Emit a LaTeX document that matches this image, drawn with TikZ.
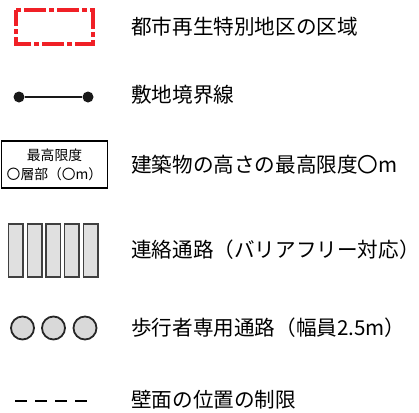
\documentclass[tikz,border=0pt]{standalone}
\usepackage{fontspec}
\setmainfont{Noto Sans CJK JP}
\definecolor{regred}{RGB}{240,32,38}
\begin{document}
\begin{tikzpicture}[x=1pt,y=-1pt,
  lbl/.style={anchor=west,inner sep=0pt,font=\fontsize{20.6}{23}\selectfont},
  bar/.style={draw=black!75,fill=black!12,line width=1.8pt},
  ped/.style={draw=black!85,fill=black!15,line width=1.8pt,circle,minimum size=23pt,inner sep=0pt},
  dot/.style={circle,fill=black!90,minimum size=11pt,inner sep=0pt}]
\useasboundingbox (0,0) rectangle (419,412);
% 1 red dash-dot region
\draw[regred,line width=4pt,dash pattern=on 22pt off 3pt on 5pt off 3pt,dash phase=-8pt]
  (16,10) -- (93,10) -- (93,44) -- (16,44) -- cycle;
\node[lbl] (t1) at (131,27) {都市再生特別地区の区域};
% 2 site boundary
\node[dot] (d1) at (19,97) {};
\node[dot] (d2) at (88,97) {};
\draw[line width=2pt,black!90] (d1) -- (d2);
\node[lbl] (t2) at (131,95) {敷地境界線};
% 3 height box
\node[draw,line width=1.8pt,minimum width=106pt,minimum height=47pt,inner sep=0pt,
  align=center,font=\fontsize{13.8}{19}\selectfont] (box) at (54.5,164.5) {最高限度\\〇層部（〇m）};
\node[lbl] (t3) at (131,165) {建築物の高さの最高限度〇m};
% 4 connection passage
\foreach \i/\x in {1/8.5,2/27.5,3/46,4/64.5,5/83.5}{
  \draw[bar] (\x,224) rectangle ++(14.5,53);
}
\node[lbl] (t4) at (131,250) {連絡通路（バリアフリー対応）};
% 5 pedestrian passage
\node[ped] (c1) at (22.5,328) {};
\node[ped] (c2) at (53.5,328) {};
\node[ped] (c3) at (85,328) {};
\node[lbl] (t5) at (131,328) {歩行者専用通路（幅員2.5m）};
% 6 wall position
\draw[line width=1.5pt,dash pattern=on 12pt off 8pt] (15,401) -- (88,401);
\node[lbl] (t6) at (131,400) {壁面の位置の制限};
\end{tikzpicture}
\end{document}
